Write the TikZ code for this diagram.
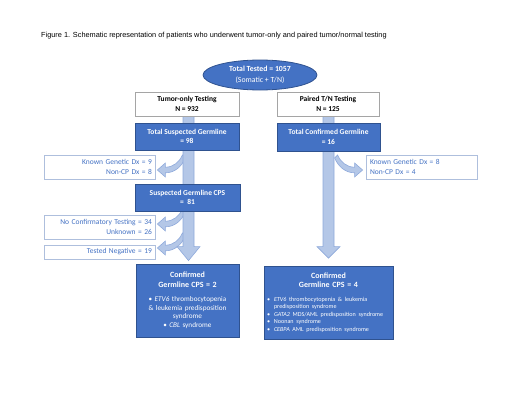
\documentclass[tikz,border=0pt]{standalone}
\usepackage{fontspec}
\setmainfont{Carlito}
\newfontfamily\arialf{Liberation Sans}
\usetikzlibrary{shapes.geometric,calc,backgrounds}
\definecolor{blueF}{HTML}{4472C4}
\definecolor{blueD}{HTML}{2F528F}
\definecolor{lightF}{HTML}{B4C7E7}
\definecolor{lightD}{HTML}{8EA9DB}
\definecolor{grayB}{HTML}{A5A5A5}
\definecolor{sideB}{HTML}{AEBFDD}
\newcommand{\bul}{\makebox[7pt][l]{\textbullet}}
\begin{document}
\begin{tikzpicture}[x=1pt,y=-1pt,
  bluebox/.style={draw=blueD,fill=blueF,line width=0.8pt,text=white,font=\bfseries\fontsize{7.5}{9.5}\selectfont,align=center,inner sep=0pt},
  whitebox/.style={draw=grayB,fill=white,line width=0.8pt,font=\bfseries\fontsize{7.5}{9.5}\selectfont,align=center,inner sep=0pt},
  sidebox/.style={draw=sideB,fill=white,line width=0.8pt,text=blueF,font=\fontsize{7.5}{9.2}\selectfont,inner xsep=3pt,inner ysep=0pt,minimum height=24pt},
  shaft/.style={fill=lightF,draw=lightD,line width=0.6pt},
  carrow/.pic={\path[shaft] (0,0) -- (8,-7) -- (8,-2.8) .. controls (16,-2.8) and (22,-8) .. (25,-15) -- (28,-12) .. controls (24,-3) and (17,2.8) .. (8,2.8) -- (8,7) -- cycle;}
]
\useasboundingbox (0,0) rectangle (520,402);

\node[anchor=west,inner sep=0pt,font=\arialf\fontsize{7.35}{8.5}\selectfont] (title) at (41,36) {Figure 1. Schematic representation of patients who underwent tumor-only and paired tumor/normal testing};

\node[ellipse,draw=blueD,fill=blueF,line width=0.8pt,minimum width=114pt,minimum height=30pt,inner sep=0pt,text=white,align=center,font=\fontsize{7.8}{11}\selectfont] (ell) at (260,75) {\textbf{Total Tested = 1057}\\(Somatic + T/N)};

\node[whitebox,minimum width=104pt,minimum height=24pt] (to) at (187,104) {Tumor-only Testing\\N = 932};
\node[whitebox,minimum width=102pt,minimum height=24pt] (pt) at (328,104) {Paired T/N Testing\\N = 125};

\node[bluebox,minimum width=104pt,minimum height=27pt] (tsg) at (187,136.5) {Total Suspected Germline\\= 98};
\node[bluebox,minimum width=103pt,minimum height=28pt] (tcg) at (328.5,137) {Total Confirmed Germline\\= 16};
\node[bluebox,minimum width=105pt,minimum height=27pt] (sgc) at (187.5,197.5) {Suspected Germline CPS\\=\ \ 81};

\node[sidebox,text width=105pt,align=right] (kg) at (99.5,167) {Known Genetic Dx = 9\\Non-CP Dx = 8};
\node[sidebox,text width=105pt,align=right] (nc) at (99.5,227) {No Confirmatory Testing = 34\\Unknown = 26};
\node[sidebox,text width=105pt,align=right,minimum height=14pt] (tn) at (99.5,252) {Tested Negative = 19};
\node[sidebox,text width=103pt,inner xsep=4pt,align=left] (kr) at (421.5,167) {Known Genetic Dx = 8\\Non-CP Dx = 4};

\node[bluebox,minimum width=103pt,minimum height=73pt,text width=99pt,font=\fontsize{7.2}{8.7}\selectfont] (cl) at (187.5,300.5) {\centering{\bfseries\fontsize{8}{10}\selectfont Confirmed\\Germline CPS = 2\par}\vspace{5pt}\textbullet\ \textit{ETV6} thrombocytopenia\\ \& leukemia predisposition\\ syndrome\\ \textbullet\ \textit{CBL} syndrome\par};

\node[bluebox,minimum width=129pt,minimum height=73pt,text width=123pt,font=\fontsize{8}{9.5}\selectfont] (cr) at (328.5,302.5) {\centering{\bfseries Confirmed\\Germline CPS = 4\par}\vspace{6pt}{\raggedright\mdseries\fontsize{6.1}{7.5}\selectfont \bul\textit{ETV6} thrombocytopenia \& leukemia\\\hspace*{7pt}predisposition syndrome\\\bul\textit{GATA2} MDS/AML predisposition syndrome\\\bul Noonan syndrome\\\bul\textit{CEBPA} AML predisposition syndrome\par}};

\begin{pgfonlayer}{background}
\pic at ($(kg.east)+(2,3)$) {carrow};
\pic at ($(nc.east)+(2,-3)$) {carrow};
\pic at ($(tn.east)+(2,-4)$) {carrow};
\pic[xscale=-1] at ($(kr.west)+(-3,3)$) {carrow};
\draw[shaft] let \p1=(to.south), \p2=(cl.north) in (\x1-4pt,\y1) -- (\x1-4pt,\y2+17pt) -- (\x1-10pt,\y2+17pt) -- (\x1+1.5pt,\y2+3pt) -- (\x1+13pt,\y2+17pt) -- (\x1+7pt,\y2+17pt) -- (\x1+7pt,\y1) -- cycle;
\draw[shaft] let \p1=(pt.south), \p2=(cr.north) in (\x1-5pt,\y1) -- (\x1-5pt,\y2+19pt) -- (\x1-11pt,\y2+19pt) -- (\x1+0.5pt,\y2+7.5pt) -- (\x1+12pt,\y2+19pt) -- (\x1+6pt,\y2+19pt) -- (\x1+6pt,\y1) -- cycle;
\end{pgfonlayer}
\end{tikzpicture}
\end{document}
